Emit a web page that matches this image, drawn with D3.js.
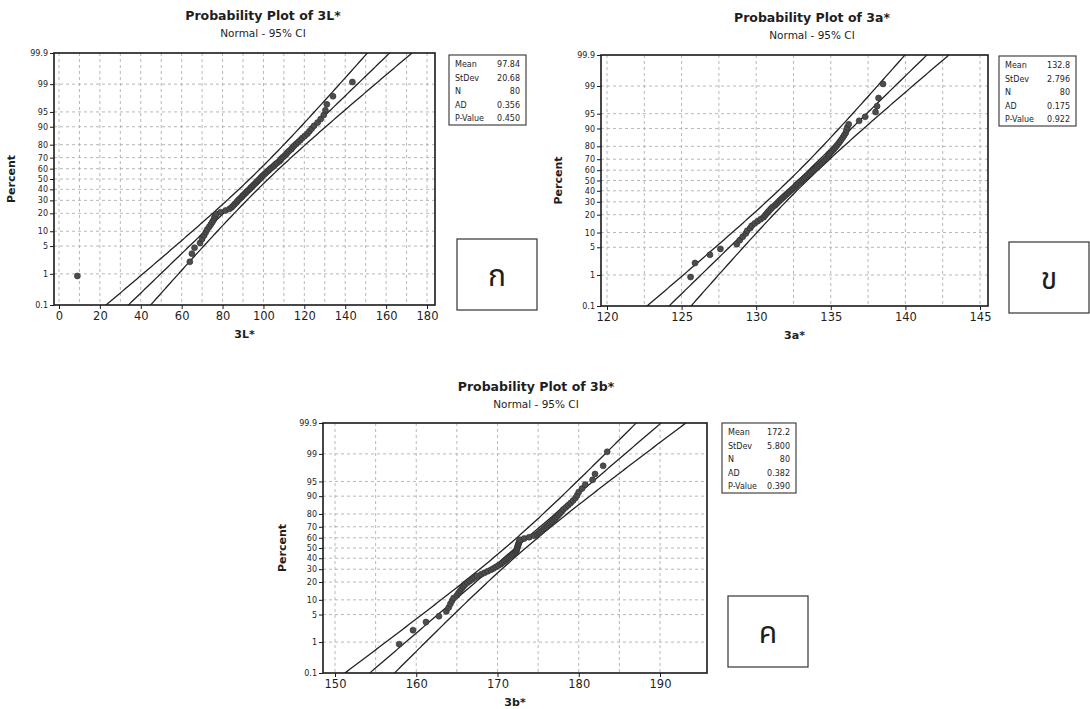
<!DOCTYPE html>
<html>
<head>
<meta charset="utf-8">
<script src="https://cdn.jsdelivr.net/npm/d3@7"></script>
<style>
	html, body {margin: 0; padding: 0; background: #fff;}
	svg {display: block;}
	text {font-family: "DejaVu Sans", Verdana, sans-serif; fill: #1e1e1e;}
	.thai {font-family: "Noto Sans Thai", "Loma", "Garuda", "Norasi", "TlwgTypo", "DejaVu Sans", sans-serif;}
</style>
</head>
<body>
<svg id="chart" width="1090" height="709"></svg>
<script>
(function() {
	'use strict';

	var valuesL = [
		9.0, 64.0, 65.0, 66.3, 69.0, 70.0, 71.0, 71.8, 72.5, 73.5,
		74.3, 75.0, 75.6, 76.0, 76.4, 77.0, 79.0, 81.5, 83.5, 84.5,
		85.3, 86.0, 86.8, 87.3, 88.0, 88.8, 89.5, 90.0, 90.8, 91.5,
		92.0, 92.8, 93.5, 94.0, 94.7, 95.3, 96.0, 96.6, 97.2, 97.8,
		98.5, 99.0, 99.6, 100.3, 101.0, 101.6, 102.4, 103.0, 103.8, 104.6,
		105.3, 106.0, 106.8, 107.8, 108.3, 108.8, 109.6, 110.5, 111.2, 111.8,
		112.6, 113.6, 114.2, 115.0, 116.0, 117.0, 118.0, 119.0, 120.2, 121.5,
		122.5, 123.6, 124.8, 126.5, 128.0, 129.5, 130.3, 131.0, 134.0, 143.5];

	var valuesA = [
		125.6, 125.9, 126.9, 127.6, 128.7, 128.9, 129.1, 129.3, 129.4, 129.6,
		129.7, 129.9, 130.1, 130.3, 130.5, 130.6, 130.7, 130.8, 130.9, 131.0,
		131.1, 131.25, 131.35, 131.45, 131.55, 131.65, 131.75, 131.85, 131.95, 132.05,
		132.15, 132.25, 132.35, 132.45, 132.55, 132.65, 132.7, 132.8, 132.9, 133.0,
		133.1, 133.2, 133.3, 133.4, 133.5, 133.6, 133.7, 133.8, 133.9, 134.0,
		134.1, 134.2, 134.3, 134.4, 134.5, 134.6, 134.7, 134.8, 134.85, 134.9,
		135.0, 135.1, 135.2, 135.3, 135.4, 135.5, 135.6, 135.7, 135.8, 135.9,
		136.0, 136.05, 136.1, 136.2, 136.9, 137.3, 138.0, 138.1, 138.2, 138.5];

	var valuesB = [
		157.9, 159.6, 161.2, 162.8, 163.7, 164.0, 164.2, 164.4, 164.6, 165.0,
		165.2, 165.4, 165.6, 165.8, 166.0, 166.3, 166.6, 166.9, 167.2, 167.5,
		168.0, 168.4, 168.8, 169.2, 169.5, 169.8, 170.1, 170.4, 170.6, 170.8,
		171.0, 171.2, 171.4, 171.6, 171.8, 172.0, 172.2, 172.3, 172.35, 172.4,
		172.45, 172.5, 172.55, 172.6, 172.65, 172.7, 172.75, 173.3, 173.9, 174.5,
		174.9, 175.1, 175.3, 175.5, 175.7, 175.9, 176.1, 176.3, 176.5, 176.7,
		176.9, 177.1, 177.3, 177.5, 177.7, 177.9, 178.1, 178.4, 178.7, 179.0,
		179.3, 179.6, 179.8, 180.0, 180.4, 180.8, 181.7, 182.0, 183.0, 183.5];

	// summary table shown beside each plot
	var statNames = ['Mean', 'StDev', 'N', 'AD', 'P-Value'];
	var statsL = ['97.84', '20.68', '80', '0.356', '0.450'];
	var statsA = ['132.8', '2.796', '80', '0.175', '0.922'];
	var statsB = ['172.2', '5.800', '80', '0.382', '0.390'];

	var percentTicks = [0.1, 1, 5, 10, 20, 30, 40, 50, 60, 70, 80, 90, 95, 99, 99.9];
	var percentTickLabels = ['0.1', '1', '5', '10', '20', '30', '40', '50', '60', '70', '80', '90', '95', '99', '99.9'];
	var xTicksL = [0, 20, 40, 60, 80, 100, 120, 140, 160, 180];
	var xTicksA = [120, 125, 130, 135, 140, 145];
	var xTicksB = [150, 160, 170, 180, 190];

	var titles = ['Probability Plot of 3L*', 'Probability Plot of 3a*', 'Probability Plot of 3b*'];
	var subtitle = 'Normal - 95% CI';
	var axisNames = ['3L*', '3a*', '3b*'];
	var panelLetters = ['ก', 'ข', 'ค'];

	// inverse of the standard normal cdf (Acklam)
	function probit(p) {
		var a = [-39.69683028665376, 220.9460984245205, -275.9285104469687, 138.3577518672690, -30.66479806614716, 2.506628277459239];
		var b = [-54.47609879822406, 161.5858368580409, -155.6989798598866, 66.80131188771972, -13.28068155288572];
		var c = [-0.007784894002430293, -0.3223964580411365, -2.400758277161838, -2.549732539343734, 4.374664141464968, 2.938163982698783];
		var d = [0.007784695709041462, 0.3224671290700398, 2.445134137142996, 3.754408661907416];
		var q, r;
		if (p < 0.02425) {
			q = Math.sqrt(-2 * Math.log(p));
			return (((((c[0]*q+c[1])*q+c[2])*q+c[3])*q+c[4])*q+c[5]) / ((((d[0]*q+d[1])*q+d[2])*q+d[3])*q+1);}
		if (p <= 1 - 0.02425) {
			q = p - 0.5; r = q * q;
			return (((((a[0]*r+a[1])*r+a[2])*r+a[3])*r+a[4])*r+a[5])*q / (((((b[0]*r+b[1])*r+b[2])*r+b[3])*r+b[4])*r+1);}
		q = Math.sqrt(-2 * Math.log(1 - p));
		return -(((((c[0]*q+c[1])*q+c[2])*q+c[3])*q+c[4])*q+c[5]) / ((((d[0]*q+d[1])*q+d[2])*q+d[3])*q+1);}

	var svg = d3.select('#chart');

	function drawPanel(cfg, index) {
		var g = svg.append('g');
		var box = cfg.plot;
		var mean = +cfg.stats[0], sd = +cfg.stats[1], n = +cfg.stats[2];

		var x = d3.scaleLinear().domain(cfg.xDomain).range(cfg.xRange);
		var zScale = d3.scaleLinear()
			.domain([probit(0.001), probit(0.999)])
			.range([box.y1, box.y0]);
		function y(pct) {return zScale(probit(pct / 100));}

		var clipId = 'clip' + index;
		g.append('clipPath').attr('id', clipId)
			.append('rect')
			.attr('x', box.x0).attr('y', box.y0)
			.attr('width', box.x1 - box.x0).attr('height', box.y1 - box.y0);

		// grid
		var grid = g.append('g').attr('clip-path', 'url(#' + clipId + ')');
		grid.selectAll('line.vg')
			.data(d3.range(cfg.xDomain[0], cfg.xDomain[1] + cfg.gridStep / 2, cfg.gridStep))
			.enter().append('line')
			.attr('x1', function(v) {return x(v);}).attr('x2', function(v) {return x(v);})
			.attr('y1', box.y0).attr('y2', box.y1)
			.attr('stroke', '#b0b0b0').attr('stroke-width', 0.9)
			.attr('stroke-dasharray', '3,3');
		grid.selectAll('line.hg')
			.data(percentTicks.slice(1, -1))
			.enter().append('line')
			.attr('x1', box.x0).attr('x2', box.x1)
			.attr('y1', function(p) {return y(p);}).attr('y2', function(p) {return y(p);})
			.attr('stroke', '#b0b0b0').attr('stroke-width', 0.9)
			.attr('stroke-dasharray', '3,3');

		// fitted line and 95% band
		var zs = d3.range(-3.6, 3.61, 0.05);
		var half = function(z) {return 1.96 * sd * Math.sqrt(1 / n + z * z / (2 * n));};
		var curve = function(sign) {
			return d3.line()
				.x(function(z) {return x(mean + z * sd + sign * half(z));})
				.y(function(z) {return zScale(z);});};
		var lines = g.append('g').attr('clip-path', 'url(#' + clipId + ')');
		[-1, 0, 1].forEach(function(sign) {
			lines.append('path')
				.attr('d', curve(sign)(zs))
				.attr('fill', 'none').attr('stroke', '#222').attr('stroke-width', 1.3);});

		// points at median ranks
		var count = cfg.values.length;
		g.append('g').selectAll('circle')
			.data(cfg.values)
			.enter().append('circle')
			.attr('cx', function(v) {return x(v);})
			.attr('cy', function(v, i) {return y(100 * (i + 1 - 0.3) / (count + 0.4));})
			.attr('r', 3)
			.attr('fill', '#4d4d4d').attr('stroke', '#2e2e2e').attr('stroke-width', 0.6);

		// frame
		g.append('rect')
			.attr('x', box.x0).attr('y', box.y0)
			.attr('width', box.x1 - box.x0).attr('height', box.y1 - box.y0)
			.attr('fill', 'none').attr('stroke', '#1a1a1a').attr('stroke-width', 1.6);

		// axes
		var xAxis = d3.axisBottom(x).tickValues(cfg.xTicks).tickSize(4).tickPadding(3)
			.tickFormat(d3.format('d'));
		var xg = g.append('g').attr('transform', 'translate(0,' + box.y1 + ')').call(xAxis);
		xg.select('.domain').remove();
		xg.selectAll('text').style('font-size', '11.5px').attr('fill', '#1e1e1e');
		xg.selectAll('line').attr('stroke', '#1a1a1a');

		var yAxis = d3.axisLeft(zScale)
			.tickValues(percentTicks.map(function(p) {return probit(p / 100);}))
			.tickFormat(function(z, i) {return percentTickLabels[i];})
			.tickSize(4).tickPadding(2);
		var yg = g.append('g').attr('transform', 'translate(' + box.x0 + ',0)').call(yAxis);
		yg.select('.domain').remove();
		yg.selectAll('text').style('font-size', '8px').attr('fill', '#1e1e1e');
		yg.selectAll('line').attr('stroke', '#1a1a1a');

		// titles
		g.append('text').attr('x', cfg.titleX).attr('y', cfg.titleY)
			.attr('text-anchor', 'middle').style('font-size', '12.5px').style('font-weight', 'bold')
			.text(titles[index]);
		g.append('text').attr('x', cfg.titleX).attr('y', cfg.titleY + 17)
			.attr('text-anchor', 'middle').style('font-size', '10.5px')
			.text(subtitle);
		g.append('text').attr('x', (box.x0 + box.x1) / 2).attr('y', box.y1 + 33)
			.attr('text-anchor', 'middle').style('font-size', '11px').style('font-weight', 'bold')
			.text(axisNames[index]);
		g.append('text')
			.attr('transform', 'translate(' + cfg.percentX + ',' + (box.y0 + box.y1) / 2 + ') rotate(-90)')
			.attr('text-anchor', 'middle').style('font-size', '11px').style('font-weight', 'bold')
			.text('Percent');

		// stats table
		var lg = cfg.legend;
		g.append('rect').attr('x', lg.x).attr('y', lg.y).attr('width', lg.w).attr('height', lg.h)
			.attr('fill', '#fff').attr('stroke', '#333').attr('stroke-width', 1.1);
		var rows = g.append('g').selectAll('g.row')
			.data(statNames)
			.enter().append('g')
			.attr('transform', function(d, i) {return 'translate(0,' + (lg.y + 12 + i * 13.6) + ')';});
		rows.append('text').attr('x', lg.x + 6).style('font-size', '8px')
			.text(function(d) {return d;});
		rows.append('text').attr('x', lg.x + lg.w - 6).attr('text-anchor', 'end').style('font-size', '8px')
			.text(function(d, i) {return cfg.stats[i];});

		// panel letter box
		var lb = cfg.letterBox;
		g.append('rect').attr('x', lb.x).attr('y', lb.y).attr('width', lb.w).attr('height', lb.h)
			.attr('fill', '#fff').attr('stroke', '#333').attr('stroke-width', 1.2);
		g.append('text').attr('class', 'thai')
			.attr('x', lb.x + lb.w / 2).attr('y', lb.y + lb.h / 2 + 11)
			.attr('text-anchor', 'middle').style('font-size', '30px')
			.text(panelLetters[index]);
	}

	var panels = [
		{values: valuesL, stats: statsL, xTicks: xTicksL, xDomain: [0, 180], xRange: [59, 427], gridStep: 10,
			plot: {x0: 54, x1: 435, y0: 53, y1: 305}, titleX: 263, titleY: 20, percentX: 15,
			legend: {x: 449, y: 55, w: 77, h: 70}, letterBox: {x: 457, y: 239, w: 80, h: 71}},
		{values: valuesA, stats: statsA, xTicks: xTicksA, xDomain: [120, 145], xRange: [607, 980], gridStep: 2.5,
			plot: {x0: 601, x1: 988, y0: 55, y1: 306}, titleX: 812, titleY: 22, percentX: 562,
			legend: {x: 999, y: 56, w: 77, h: 70}, letterBox: {x: 1009, y: 242, w: 80, h: 71}},
		{values: valuesB, stats: statsB, xTicks: xTicksB, xDomain: [150, 190], xRange: [335, 660], gridStep: 5,
			plot: {x0: 323, x1: 707, y0: 423, y1: 673}, titleX: 536, titleY: 391, percentX: 286,
			legend: {x: 722, y: 423, w: 74, h: 70}, letterBox: {x: 728, y: 596, w: 80, h: 71}}];

	panels.forEach(drawPanel);
})();
</script>
</body>
</html>
